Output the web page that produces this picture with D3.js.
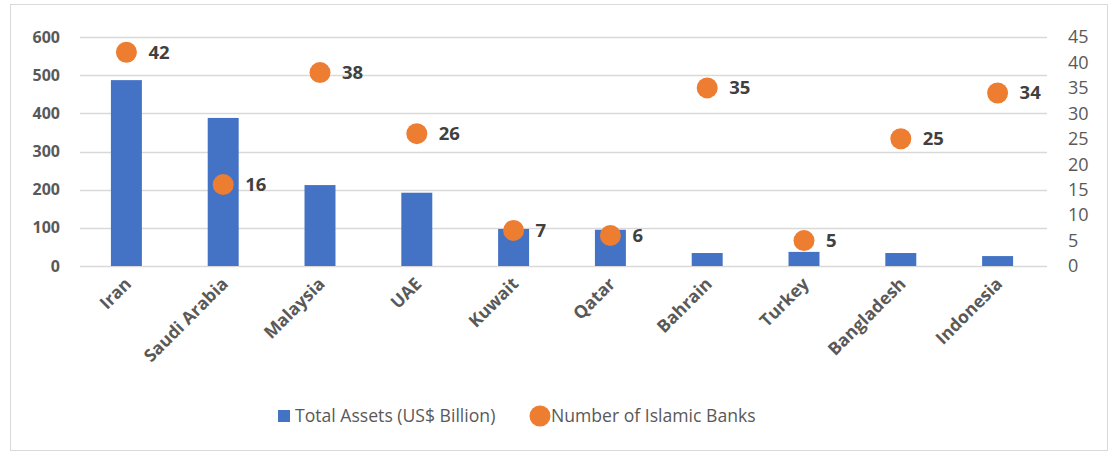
<!DOCTYPE html>
<html>
<head>
<meta charset="utf-8">
<script src="https://cdn.jsdelivr.net/npm/d3@7"></script>
<style>
	body { margin: 0; background: #fff; }
	svg { display: block; font-family: "Open Sans", "Noto Sans", sans-serif; }
</style>
</head>
<body>
<div class="container"></div>
<script>
var countries = ["Iran", "Saudi Arabia", "Malaysia", "UAE", "Kuwait", "Qatar", "Bahrain", "Turkey", "Bangladesh", "Indonesia"];
var totalAssets = [487, 388, 212, 192, 97, 95, 34, 37, 34, 26];
var islamicBanks = [42, 16, 38, 26, 7, 6, 35, 5, 25, 34];
var leftTicks = [0, 100, 200, 300, 400, 500, 600];
var rightTicks = [0, 5, 10, 15, 20, 25, 30, 35, 40, 45];
var legendLabels = ["Total Assets (US$ Billion)", "Number of Islamic Banks"];

var width = 1109, height = 452;
var margin = {left: 78, right: 63, top: 37, bottom: 186};

var svg = d3.select(".container").append("svg")
	.attr("width", width)
	.attr("height", height);

svg.append("rect")
	.attr("x", 10.5).attr("y", 4.5)
	.attr("width", width - 12).attr("height", height - 6)
	.attr("fill", "#fff")
	.attr("stroke", "#d9d9d9");

var x = d3.scaleBand()
	.domain(countries)
	.range([margin.left, width - margin.right])
	.paddingInner(0.68)
	.paddingOuter(0.34);

var yLeft = d3.scaleLinear().domain([0, 600]).range([height - margin.bottom, margin.top]);
var yRight = d3.scaleLinear().domain([0, 45]).range([height - margin.bottom, margin.top]);

// gridlines
svg.append("g").selectAll("line")
	.data(leftTicks)
	.enter().append("line")
	.attr("x1", 80).attr("x2", 1047)
	.attr("y1", function(d) { return Math.round(yLeft(d)) + 0.5; })
	.attr("y2", function(d) { return Math.round(yLeft(d)) + 0.5; })
	.attr("stroke", "#d9d9d9")
	.attr("stroke-width", 1.5);

// left axis labels
svg.append("g").selectAll("text")
	.data(leftTicks)
	.enter().append("text")
	.attr("x", 60)
	.attr("y", function(d) { return yLeft(d); })
	.attr("dy", "0.35em")
	.attr("text-anchor", "end")
	.attr("font-size", 16)
	.attr("font-weight", "bold")
	.attr("fill", "#595959")
	.text(function(d) { return d; });

// right axis labels
svg.append("g").selectAll("text")
	.data(rightTicks)
	.enter().append("text")
	.attr("x", 1068)
	.attr("y", function(d) { return yRight(d); })
	.attr("dy", "0.35em")
	.attr("font-size", 18)
	.attr("fill", "#595959")
	.text(function(d) { return d; });

// bars
svg.append("g").selectAll("rect")
	.data(countries)
	.enter().append("rect")
	.attr("x", function(d) { return x(d); })
	.attr("width", x.bandwidth())
	.attr("y", function(d, i) { return yLeft(totalAssets[i]); })
	.attr("height", function(d, i) { return yLeft(0) - yLeft(totalAssets[i]); })
	.attr("fill", "#4472c4");

// dots
var cx = function(d) { return x(d) + x.bandwidth() / 2; };
svg.append("g").selectAll("circle")
	.data(countries)
	.enter().append("circle")
	.attr("cx", cx)
	.attr("cy", function(d, i) { return yRight(islamicBanks[i]); })
	.attr("r", 10.5)
	.attr("fill", "#ed7d31");

svg.append("g").selectAll("text")
	.data(countries)
	.enter().append("text")
	.attr("x", function(d) { return cx(d) + 22; })
	.attr("y", function(d, i) { return yRight(islamicBanks[i]); })
	.attr("dy", "0.35em")
	.attr("font-size", 18.5)
	.attr("font-weight", "bold")
	.attr("fill", "#404040")
	.text(function(d, i) { return islamicBanks[i]; });

// category labels
svg.append("g").selectAll("text")
	.data(countries)
	.enter().append("text")
	.attr("transform", function(d) { return "translate(" + (cx(d) + 6) + ",285) rotate(-45)"; })
	.attr("text-anchor", "end")
	.attr("font-size", 17.5)
	.attr("font-weight", "bold")
	.attr("fill", "#595959")
	.text(function(d) { return d; });

// legend
var legend = svg.append("g");
legend.append("rect")
	.attr("x", 278).attr("y", 410)
	.attr("width", 12).attr("height", 12)
	.attr("fill", "#4472c4");
legend.append("text")
	.attr("x", 295).attr("y", 416)
	.attr("dy", "0.35em")
	.attr("font-size", 17.6)
	.attr("fill", "#595959")
	.text(legendLabels[0]);
legend.append("circle")
	.attr("cx", 540).attr("cy", 416)
	.attr("r", 10.5)
	.attr("fill", "#ed7d31");
legend.append("text")
	.attr("x", 551).attr("y", 416)
	.attr("dy", "0.35em")
	.attr("font-size", 17.6)
	.attr("fill", "#595959")
	.text(legendLabels[1]);
</script>
</body>
</html>
